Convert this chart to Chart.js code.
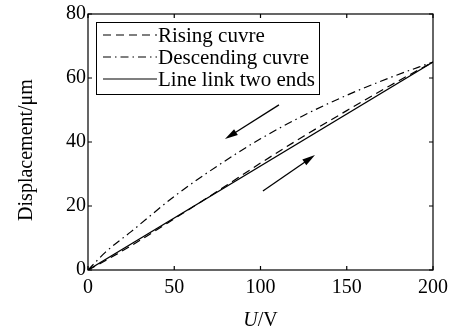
<!DOCTYPE html>
<html>
<head>
<meta charset="utf-8">
<script src="https://cdn.jsdelivr.net/npm/chart.js@4/dist/chart.umd.min.js"></script>
<style>
  html, body { margin: 0; padding: 0; background: #fff; }
  #wrap { width: 456px; height: 335px; }
</style>
</head>
<body>
<div id="wrap"><canvas id="hysteresisChart"></canvas></div>
<script>
// Tension (V) and displacement (µm)
const voltage = [0, 10, 25, 50, 75, 100, 125, 150, 175, 200];
const rising = [0, 2.9, 7.6, 16, 24.6, 33.4, 41.8, 49.8, 57.6, 65];
const descending = [0, 5.5, 12, 23, 32.5, 41, 48.3, 54.6, 60.1, 65];
const linkVoltage = [0, 200];
const linkDisplacement = [0, 65];

const xTicks = [0, 50, 100, 150, 200];
const yTicks = [0, 20, 40, 60, 80];

const seriesNames = ['Rising cuvre', 'Descending cuvre', 'Line link two ends'];

// arrows: [fromU, fromD, toU, toD]
const arrowDown = [110.7, 51.6, 79.4, 40.9];
const arrowUp = [101.4, 24.7, 131.6, 35.9];

const serif = 'Liberation Serif';

function toPoints(xs, ys) {
    return xs.map((x, i) => ({ x: x, y: ys[i] }));
}

// frame + inward ticks, matlab style
const framePlugin = {
    id: 'frame',
    afterDraw(chart) {
        const { ctx, chartArea: a, scales } = chart;
        ctx.save();
        ctx.strokeStyle = '#000';
        ctx.lineWidth = 1.2;
        ctx.strokeRect(a.left, a.top, a.right - a.left, a.bottom - a.top);
        const len = 4;
        ctx.beginPath();
        xTicks.forEach(v => {
            const px = scales.x.getPixelForValue(v);
            ctx.moveTo(px, a.bottom); ctx.lineTo(px, a.bottom - len);
            ctx.moveTo(px, a.top); ctx.lineTo(px, a.top + len);
        });
        yTicks.forEach(v => {
            const py = scales.y.getPixelForValue(v);
            ctx.moveTo(a.left, py); ctx.lineTo(a.left + len, py);
            ctx.moveTo(a.right, py); ctx.lineTo(a.right - len, py);
        });
        ctx.stroke();
        ctx.restore();
    }
};

const arrowPlugin = {
    id: 'arrows',
    afterDatasetsDraw(chart) {
        const { ctx, scales } = chart;
        [arrowDown, arrowUp].forEach(ar => {
            const x1 = scales.x.getPixelForValue(ar[0]);
            const y1 = scales.y.getPixelForValue(ar[1]);
            const x2 = scales.x.getPixelForValue(ar[2]);
            const y2 = scales.y.getPixelForValue(ar[3]);
            const ang = Math.atan2(y2 - y1, x2 - x1);
            const hl = 13, hw = 3.5;
            ctx.save();
            ctx.strokeStyle = '#000';
            ctx.fillStyle = '#000';
            ctx.lineWidth = 1.3;
            ctx.beginPath();
            ctx.moveTo(x1, y1);
            ctx.lineTo(x2 - Math.cos(ang) * hl * 0.8, y2 - Math.sin(ang) * hl * 0.8);
            ctx.stroke();
            ctx.beginPath();
            ctx.moveTo(x2, y2);
            ctx.lineTo(x2 - Math.cos(ang) * hl + Math.sin(ang) * hw, y2 - Math.sin(ang) * hl - Math.cos(ang) * hw);
            ctx.lineTo(x2 - Math.cos(ang) * hl - Math.sin(ang) * hw, y2 - Math.sin(ang) * hl + Math.cos(ang) * hw);
            ctx.closePath();
            ctx.fill();
            ctx.restore();
        });
    }
};

const legendPlugin = {
    id: 'boxLegend',
    afterDraw(chart) {
        const { ctx, chartArea: a } = chart;
        const left = a.left + 8, top = a.top + 8, w = 223, h = 72;
        ctx.save();
        ctx.fillStyle = '#fff';
        ctx.fillRect(left, top, w, h);
        ctx.strokeStyle = '#000';
        ctx.lineWidth = 1;
        ctx.strokeRect(left + 0.5, top + 0.5, w, h);
        ctx.font = '21px "' + serif + '"';
        ctx.textBaseline = 'middle';
        ctx.fillStyle = '#000';
        chart.data.datasets.forEach((ds, i) => {
            const y = top + 13 + i * 22;
            ctx.beginPath();
            ctx.setLineDash(ds.borderDash || []);
            ctx.lineWidth = 1.2;
            ctx.moveTo(left + 7, y);
            ctx.lineTo(left + 61, y);
            ctx.stroke();
            ctx.setLineDash([]);
            ctx.fillText(ds.label, left + 62, y + 1);
        });
        ctx.restore();
    }
};

const titlesPlugin = {
    id: 'axisTitles',
    afterDraw(chart) {
        const { ctx, chartArea: a } = chart;
        ctx.save();
        ctx.fillStyle = '#000';
        ctx.textBaseline = 'middle';
        // x title: italic U, upright /V
        const cx = (a.left + a.right) / 2;
        const y = 321;
        ctx.font = 'italic 20px "' + serif + '"';
        const wu = ctx.measureText('U').width;
        ctx.font = '20px "' + serif + '"';
        const wr = ctx.measureText('/V').width;
        const x0 = cx - (wu + wr) / 2;
        ctx.font = 'italic 20px "' + serif + '"';
        ctx.fillText('U', x0, y);
        ctx.font = '20px "' + serif + '"';
        ctx.fillText('/V', x0 + wu, y);
        // y title
        ctx.translate(27, 150);
        ctx.rotate(-Math.PI / 2);
        ctx.textAlign = 'center';
        ctx.font = '20px "' + serif + '"';
        ctx.fillText('Displacement/μm', 0, 0);
        ctx.restore();
    }
};

const canvas = document.getElementById('hysteresisChart');
new Chart(canvas.getContext('2d'), {
    type: 'scatter',
    data: {
        datasets: [{
            label: seriesNames[0],
            data: toPoints(voltage, rising),
            showLine: true,
            borderColor: '#000',
            borderWidth: 1.2,
            borderDash: [8, 5],
            pointRadius: 0,
            cubicInterpolationMode: 'monotone'
        }, {
            label: seriesNames[1],
            data: toPoints(voltage, descending),
            showLine: true,
            borderColor: '#000',
            borderWidth: 1.2,
            borderDash: [8, 4, 1.5, 4],
            pointRadius: 0,
            cubicInterpolationMode: 'monotone'
        }, {
            label: seriesNames[2],
            data: toPoints(linkVoltage, linkDisplacement),
            showLine: true,
            borderColor: '#000',
            borderWidth: 1.2,
            pointRadius: 0
        }]
    },
    options: {
        responsive: true,
        maintainAspectRatio: false,
        animation: false,
        layout: { padding: { top: 14, right: 23, left: 0, bottom: 0 } },
        plugins: {
            legend: { display: false },
            tooltip: { enabled: false }
        },
        scales: {
            x: {
                type: 'linear',
                min: 0,
                max: 200,
                afterFit(scale) { scale.height = 65; },
                afterBuildTicks(scale) { scale.ticks = xTicks.map(v => ({ value: v })); },
                grid: { display: false, drawTicks: false },
                border: { display: false },
                ticks: {
                    color: '#000',
                    padding: 6,
                    maxRotation: 0,
                    font: { family: serif, size: 20 }
                }
            },
            y: {
                min: 0,
                max: 80,
                afterFit(scale) { scale.width = 88; },
                afterBuildTicks(scale) { scale.ticks = yTicks.map(v => ({ value: v })); },
                grid: { display: false, drawTicks: false },
                border: { display: false },
                ticks: {
                    color: '#000',
                    padding: 2,
                    font: { family: serif, size: 20 }
                }
            }
        }
    },
    plugins: [framePlugin, arrowPlugin, legendPlugin, titlesPlugin]
});
</script>
</body>
</html>
